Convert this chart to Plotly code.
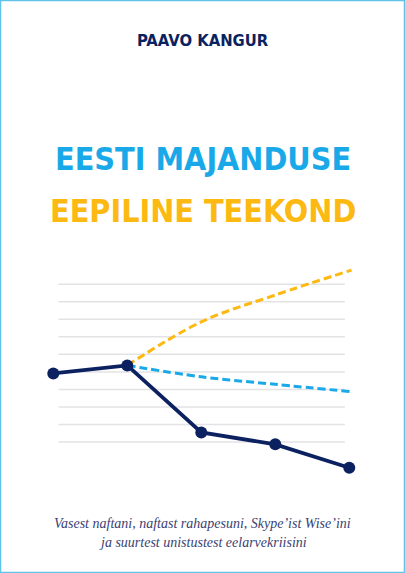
import plotly.graph_objects as go

# Data
periods = [0, 1, 2, 3, 4]
actual = [4.91, 5.37, 1.55, 0.87, -0.46]
optimistic_x = [1, 2, 3, 4.03]
optimistic = [5.37, 7.85, 9.38, 10.8]
baseline_x = [1, 2, 3, 4.03]
baseline = [5.37, 4.72, 4.29, 3.87]
grid_levels = [1, 2, 3, 4, 5, 6, 7, 8, 9, 10]

NAVY = "#0c2260"
BLUE = "#1aa9e8"
YELLOW = "#fbb911"
GRID = "#e3e3e6"
COND = "DejaVu Sans Condensed, Roboto, sans-serif"

fig = go.Figure()

fig.add_trace(go.Scatter(x=optimistic_x, y=optimistic, mode="lines",
                         line=dict(color=YELLOW, width=3, dash="8px,4px"),
                         line_shape="spline", hoverinfo="skip"))
fig.add_trace(go.Scatter(x=baseline_x, y=baseline, mode="lines",
                         line=dict(color=BLUE, width=3, dash="8px,4px"),
                         line_shape="spline", hoverinfo="skip"))
fig.add_trace(go.Scatter(x=periods, y=actual, mode="lines+markers",
                         line=dict(color=NAVY, width=3.8),
                         marker=dict(color=NAVY, size=12), cliponaxis=False))

shapes = []
for g in grid_levels:
    shapes.append(dict(type="line", xref="x", yref="y", x0=0.07, x1=3.94, y0=g, y1=g,
                       line=dict(color=GRID, width=1.5), layer="below"))
shapes.append(dict(type="rect", xref="paper", yref="paper", x0=0, x1=1, y0=0, y1=1,
                   line=dict(color="#62c3e8", width=2.5)))

H = 573.0
def py(p):
    return 1 - p / H

annotations = [
    dict(text="<b>PAAVO KANGUR</b>", x=0.5, y=py(40), xref="paper", yref="paper",
         showarrow=False, font=dict(family=COND, size=16.5, color=NAVY),
         xanchor="center", yanchor="middle"),
    dict(text="<b>EESTI MAJANDUSE</b>", x=0.5, y=py(159), xref="paper", yref="paper",
         showarrow=False, font=dict(family=COND, size=32, color=BLUE),
         xanchor="center", yanchor="middle"),
    dict(text="<b>EEPILINE TEEKOND</b>", x=0.5, y=py(211), xref="paper", yref="paper",
         showarrow=False, font=dict(family=COND, size=32, color=YELLOW),
         xanchor="center", yanchor="middle"),
    dict(text="<i>Vasest naftani, naftast rahapesuni, Skype’ist Wise’ini</i>",
         x=0.5, y=py(523), xref="paper", yref="paper", showarrow=False,
         font=dict(family="Liberation Serif", size=14, color="#3a4272"),
         xanchor="center", yanchor="middle"),
    dict(text="<i>ja suurtest unistustest eelarvekriisini</i>",
         x=0.5, y=py(542), xref="paper", yref="paper", showarrow=False,
         font=dict(family="Liberation Serif", size=14, color="#3a4272"),
         xanchor="center", yanchor="middle"),
]

fig.update_layout(
    width=405, height=573,
    margin=dict(l=0, r=0, t=0, b=0),
    paper_bgcolor="white", plot_bgcolor="white",
    showlegend=False,
    xaxis=dict(range=[-0.72, 4.753], visible=False, fixedrange=True),
    yaxis=dict(range=[-6.46, 26.19], visible=False, fixedrange=True),
    shapes=shapes, annotations=annotations,
)

fig.write_html("out.html", config=dict(displayModeBar=False),
               post_script="document.body.style.margin='0px';document.body.style.overflow='hidden';")
